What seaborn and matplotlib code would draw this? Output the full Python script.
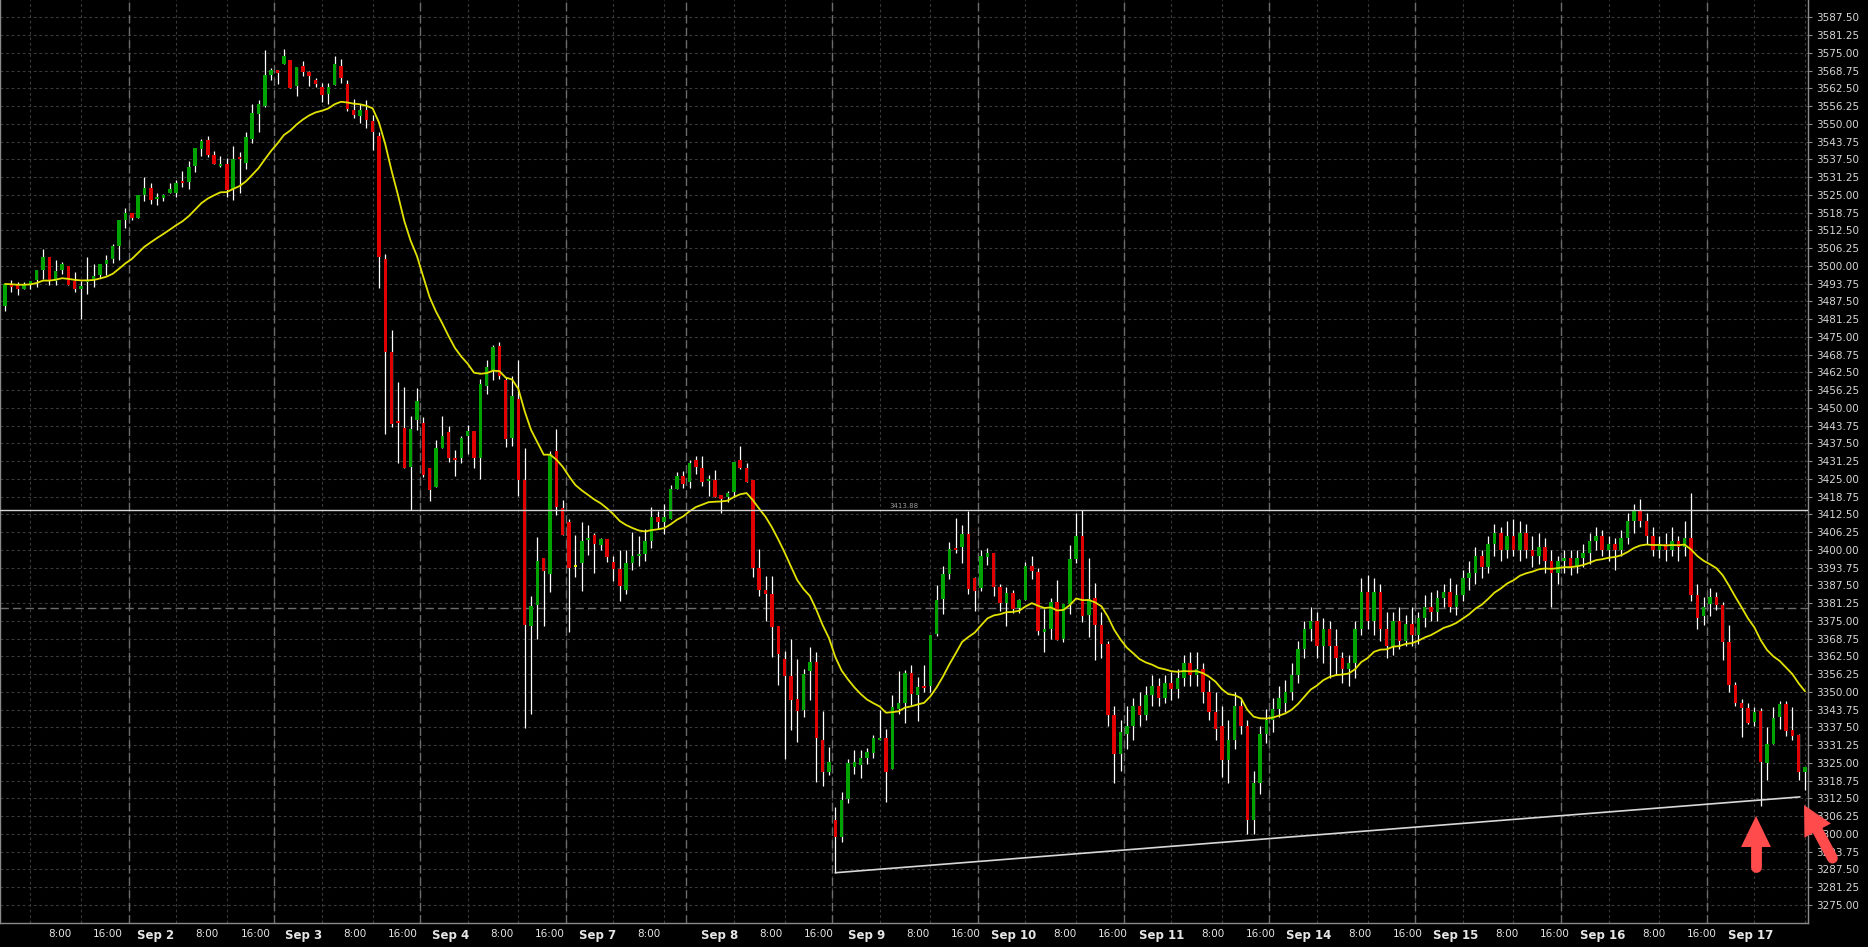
import numpy as np
import pandas as pd
import matplotlib
matplotlib.use("Agg")
import matplotlib.pyplot as plt
from matplotlib.patches import Polygon
import seaborn as sns

# ---------------- data (hourly candles, 31 Aug 20:00 -> 17 Sep 8:00) ----------------
opens = [
    3486.0, 3493.2, 3493.6, 3491.7, 3493.5, 3495.0, 3498.5, 3503.1, 3494.6, 3498.5,
    3499.9, 3494.6, 3491.8, 3494.2, 3495.4, 3496.8, 3500.6, 3502.4, 3507.0, 3516.1,
    3518.7, 3516.9, 3524.9, 3527.4, 3523.5, 3524.0, 3525.6, 3525.6, 3529.7, 3529.5,
    3535.1, 3541.1, 3544.3, 3539.0, 3535.1, 3535.8, 3527.0, 3538.3, 3536.2, 3544.6,
    3553.4, 3556.3, 3567.2, 3568.9, 3571.0, 3572.5, 3563.3, 3570.3, 3568.2, 3565.4,
    3563.0, 3560.5, 3563.7, 3570.3, 3564.0, 3554.9, 3552.7, 3554.9, 3551.0, 3545.7,
    3502.4, 3469.6, 3445.3, 3442.9, 3429.1, 3445.7, 3444.6, 3428.8, 3422.1, 3435.8,
    3441.5, 3432.3, 3432.3, 3440.1, 3441.8, 3432.3, 3457.7, 3463.3, 3471.8, 3459.8,
    3439.4, 3453.1, 3424.6, 3373.2, 3380.6, 3397.1, 3391.5, 3434.8, 3414.7, 3409.8,
    3394.0, 3395.4, 3403.5, 3405.2, 3401.7, 3403.8, 3395.7, 3393.2, 3385.9, 3395.4,
    3397.8, 3398.5, 3403.1, 3411.6, 3409.8, 3410.9, 3421.4, 3426.0, 3423.9, 3431.6,
    3428.8, 3424.3, 3424.6, 3419.3, 3418.6, 3420.4, 3431.7, 3428.8, 3424.6, 3393.6,
    3385.9, 3384.5, 3373.2, 3361.6, 3355.6, 3347.5, 3343.6, 3357.4, 3360.5, 3333.1,
    3321.8, 3305.0, 3299.0, 3312.3, 3323.6, 3324.3, 3326.7, 3328.5, 3333.1, 3333.8,
    3322.9, 3344.0, 3346.1, 3356.7, 3348.9, 3352.1, 3352.0, 3370.4, 3382.7, 3391.5,
    3400.7, 3401.0, 3405.6, 3390.1, 3386.6, 3397.5, 3398.9, 3386.9, 3381.3, 3384.8,
    3379.5, 3382.3, 3394.3, 3392.2, 3371.1, 3372.1, 3381.6, 3368.6, 3380.9, 3396.8,
    3404.9, 3377.1, 3383.1, 3373.5, 3367.0, 3342.0, 3328.0, 3335.0, 3338.0, 3345.0,
    3342.0, 3349.0, 3352.0, 3348.0, 3353.0, 3351.0, 3355.0, 3360.0, 3356.0, 3358.0,
    3350.0, 3343.0, 3338.0, 3326.0, 3333.0, 3345.0, 3338.0, 3305.0, 3318.0, 3335.0,
    3340.0, 3344.0, 3346.0, 3350.0, 3356.0, 3365.0, 3372.0, 3375.0, 3366.0, 3372.0,
    3366.0, 3362.0, 3358.0, 3360.0, 3372.0, 3385.0, 3375.0, 3385.0, 3372.0, 3366.0,
    3375.0, 3368.0, 3374.0, 3370.0, 3376.0, 3380.0, 3378.0, 3383.0, 3385.0, 3380.0,
    3384.0, 3390.0, 3392.0, 3398.0, 3394.0, 3402.0, 3406.0, 3400.0, 3405.0, 3400.0,
    3406.0, 3400.0, 3398.0, 3401.0, 3396.0, 3392.0, 3396.0, 3397.0, 3394.0, 3397.0,
    3399.0, 3403.0, 3405.0, 3400.0, 3402.0, 3400.0, 3404.0, 3410.0, 3414.0, 3410.0,
    3405.0, 3400.0, 3402.0, 3400.0, 3403.0, 3401.0, 3404.0, 3384.0, 3376.6, 3381.1,
    3383.4, 3380.5, 3367.6, 3352.4, 3345.9, 3344.4, 3339.4, 3343.2, 3325.0, 3331.8,
    3341.2, 3345.7, 3336.5, 3334.7, 3321.8,
]
highs = [
    3493.6, 3495.0, 3494.3, 3494.2, 3494.5, 3498.5, 3505.9, 3503.1, 3502.0, 3501.3,
    3499.9, 3497.8, 3494.6, 3503.1, 3500.6, 3500.6, 3503.8, 3507.7, 3516.1, 3520.2,
    3518.7, 3524.9, 3531.3, 3529.0, 3525.6, 3525.3, 3529.1, 3530.2, 3533.4, 3536.9,
    3541.5, 3544.6, 3545.7, 3540.4, 3538.7, 3537.9, 3542.2, 3540.1, 3547.1, 3556.9,
    3558.4, 3576.0, 3569.6, 3568.9, 3576.3, 3572.5, 3570.0, 3572.1, 3568.6, 3566.1,
    3564.4, 3564.4, 3573.9, 3572.8, 3565.4, 3558.7, 3557.0, 3558.4, 3553.1, 3547.1,
    3504.2, 3477.4, 3459.1, 3457.3, 3447.1, 3457.0, 3446.8, 3428.8, 3438.6, 3447.1,
    3443.6, 3435.1, 3440.1, 3443.9, 3441.8, 3460.1, 3466.8, 3472.1, 3473.2, 3460.9,
    3461.2, 3466.8, 3435.8, 3383.7, 3404.5, 3397.1, 3434.8, 3442.5, 3417.5, 3410.9,
    3405.2, 3409.8, 3408.8, 3405.9, 3404.2, 3403.8, 3397.8, 3399.9, 3399.9, 3406.3,
    3404.9, 3407.3, 3415.1, 3413.7, 3416.1, 3422.8, 3427.4, 3427.7, 3431.6, 3433.0,
    3433.1, 3426.4, 3428.1, 3419.3, 3420.7, 3430.9, 3436.6, 3430.6, 3424.6, 3400.3,
    3390.8, 3390.8, 3373.2, 3364.4, 3368.6, 3361.6, 3358.1, 3365.8, 3364.1, 3343.3,
    3330.6, 3309.5, 3314.9, 3326.4, 3329.5, 3329.5, 3330.2, 3334.8, 3343.6, 3336.9,
    3348.9, 3357.4, 3357.7, 3359.5, 3355.2, 3359.5, 3370.0, 3387.6, 3394.3, 3402.8,
    3411.2, 3408.8, 3413.7, 3390.5, 3400.0, 3400.7, 3398.9, 3388.0, 3386.9, 3385.9,
    3382.7, 3395.7, 3397.8, 3393.6, 3379.2, 3383.1, 3389.4, 3380.9, 3401.7, 3413.0,
    3414.0, 3397.1, 3388.3, 3378.0, 3368.0, 3345.0, 3340.0, 3345.0, 3348.0, 3350.0,
    3352.0, 3356.0, 3355.0, 3356.0, 3357.0, 3358.0, 3363.0, 3364.0, 3364.0, 3360.0,
    3354.0, 3350.0, 3345.0, 3340.0, 3350.0, 3348.0, 3340.0, 3322.0, 3338.0, 3344.0,
    3348.0, 3352.0, 3354.0, 3360.0, 3368.0, 3375.0, 3380.0, 3378.0, 3376.0, 3375.0,
    3372.0, 3364.0, 3363.0, 3375.0, 3390.0, 3391.0, 3390.0, 3388.0, 3378.0, 3378.0,
    3380.0, 3377.0, 3380.0, 3378.0, 3384.0, 3385.0, 3386.0, 3388.0, 3390.0, 3388.0,
    3393.0, 3396.0, 3401.0, 3400.0, 3405.0, 3409.0, 3408.0, 3410.0, 3411.0, 3410.0,
    3409.0, 3405.0, 3406.0, 3404.0, 3400.0, 3398.0, 3400.0, 3400.0, 3400.0, 3402.0,
    3406.0, 3408.0, 3407.0, 3405.0, 3404.0, 3407.0, 3413.0, 3416.0, 3418.0, 3413.0,
    3408.0, 3405.0, 3406.0, 3408.0, 3405.0, 3410.0, 3420.0, 3388.0, 3383.4, 3386.6,
    3385.2, 3381.7, 3373.5, 3353.5, 3347.3, 3345.9, 3344.7, 3344.4, 3337.7, 3344.7,
    3346.8, 3346.8, 3344.5, 3335.1, 3323.6,
]
lows = [
    3484.2, 3490.9, 3489.7, 3491.7, 3491.7, 3492.6, 3495.5, 3493.2, 3493.2, 3497.1,
    3493.2, 3490.9, 3481.4, 3490.1, 3492.5, 3495.7, 3496.8, 3501.0, 3502.0, 3513.4,
    3516.1, 3516.9, 3522.8, 3521.8, 3521.4, 3522.8, 3525.6, 3524.2, 3527.7, 3527.0,
    3533.0, 3538.7, 3538.3, 3535.8, 3534.8, 3524.2, 3523.2, 3525.6, 3534.1, 3543.2,
    3547.1, 3555.9, 3565.4, 3564.0, 3571.0, 3562.6, 3559.8, 3566.8, 3563.3, 3563.0,
    3557.7, 3557.0, 3563.7, 3564.4, 3554.5, 3552.0, 3550.3, 3548.5, 3540.8, 3492.2,
    3440.8, 3443.2, 3430.6, 3428.8, 3414.0, 3442.2, 3425.6, 3417.2, 3422.1, 3435.8,
    3430.9, 3426.0, 3430.6, 3433.7, 3428.8, 3424.9, 3454.9, 3459.8, 3460.1, 3436.2,
    3436.6, 3418.9, 3337.3, 3342.2, 3368.6, 3373.2, 3385.1, 3412.3, 3405.2, 3371.1,
    3390.4, 3385.5, 3398.2, 3391.8, 3399.9, 3395.7, 3389.0, 3382.0, 3384.4, 3392.9,
    3394.3, 3396.1, 3400.6, 3407.3, 3405.6, 3410.9, 3421.4, 3421.8, 3421.8, 3426.7,
    3422.5, 3419.0, 3418.6, 3413.0, 3416.9, 3418.6, 3428.5, 3423.9, 3390.5, 3383.8,
    3375.0, 3362.3, 3352.4, 3326.4, 3336.6, 3332.4, 3341.2, 3347.2, 3318.3, 3316.9,
    3320.6, 3286.3, 3297.0, 3311.0, 3321.0, 3319.7, 3324.6, 3326.7, 3333.1, 3311.2,
    3322.9, 3342.2, 3339.1, 3345.4, 3339.8, 3350.0, 3350.0, 3369.8, 3377.4, 3389.7,
    3398.9, 3395.4, 3384.5, 3378.5, 3385.5, 3394.7, 3383.8, 3378.5, 3373.2, 3377.8,
    3377.8, 3382.3, 3389.7, 3370.0, 3364.0, 3368.6, 3368.3, 3367.6, 3377.4, 3395.4,
    3374.6, 3369.3, 3361.2, 3362.0, 3338.0, 3318.0, 3322.0, 3330.0, 3333.0, 3338.0,
    3340.0, 3345.0, 3345.0, 3346.0, 3347.0, 3348.0, 3352.0, 3352.0, 3352.0, 3346.0,
    3340.0, 3333.0, 3320.0, 3318.0, 3330.0, 3335.0, 3300.0, 3300.0, 3314.0, 3332.0,
    3336.0, 3341.0, 3343.0, 3347.0, 3353.0, 3362.0, 3368.0, 3362.0, 3360.0, 3355.0,
    3356.0, 3353.0, 3352.0, 3355.0, 3370.0, 3372.0, 3370.0, 3368.0, 3362.0, 3363.0,
    3365.0, 3366.0, 3366.0, 3367.0, 3373.0, 3375.0, 3375.0, 3380.0, 3378.0, 3377.0,
    3382.0, 3386.0, 3388.0, 3390.0, 3392.0, 3398.0, 3396.0, 3397.0, 3398.0, 3396.0,
    3397.0, 3394.0, 3395.0, 3392.0, 3380.0, 3388.0, 3392.0, 3391.0, 3392.0, 3394.0,
    3395.0, 3400.0, 3398.0, 3396.0, 3393.0, 3398.0, 3402.0, 3406.0, 3408.0, 3402.0,
    3398.0, 3397.0, 3396.0, 3398.0, 3396.0, 3398.0, 3382.0, 3372.0, 3373.5, 3376.8,
    3378.8, 3361.2, 3350.0, 3344.9, 3334.2, 3338.6, 3337.9, 3309.8, 3318.9, 3331.8,
    3337.0, 3334.4, 3333.2, 3318.9, 3315.4,
]
closes = [
    3493.6, 3492.6, 3491.7, 3493.5, 3494.5, 3498.5, 3503.1, 3494.6, 3498.2, 3500.6,
    3493.2, 3491.8, 3492.9, 3495.0, 3496.4, 3500.6, 3502.0, 3507.0, 3516.1, 3518.7,
    3516.9, 3524.9, 3527.4, 3523.2, 3524.2, 3524.8, 3527.0, 3529.0, 3529.0, 3534.8,
    3541.5, 3543.9, 3539.0, 3535.8, 3535.8, 3526.7, 3537.6, 3537.6, 3545.3, 3553.8,
    3556.9, 3567.2, 3568.9, 3568.0, 3573.9, 3562.6, 3570.0, 3568.2, 3566.8, 3564.0,
    3560.1, 3563.0, 3571.0, 3566.1, 3555.2, 3553.1, 3554.9, 3551.3, 3547.1, 3503.1,
    3469.6, 3444.3, 3444.6, 3428.8, 3442.5, 3452.4, 3426.3, 3421.0, 3435.8, 3440.1,
    3432.3, 3431.6, 3439.4, 3441.8, 3432.3, 3458.4, 3464.4, 3471.4, 3461.2, 3439.0,
    3454.2, 3424.6, 3373.5, 3380.2, 3396.1, 3392.5, 3433.7, 3415.1, 3405.2, 3393.6,
    3394.0, 3403.1, 3404.2, 3402.0, 3403.8, 3397.5, 3393.2, 3387.3, 3395.4, 3397.8,
    3398.5, 3403.1, 3411.6, 3409.8, 3411.6, 3421.4, 3426.0, 3423.2, 3430.6, 3429.2,
    3423.9, 3425.0, 3418.6, 3417.9, 3419.9, 3430.9, 3428.8, 3423.9, 3393.6, 3385.9,
    3384.5, 3372.9, 3363.3, 3355.6, 3347.2, 3343.3, 3356.3, 3360.5, 3333.8, 3321.8,
    3325.3, 3299.0, 3311.9, 3325.0, 3325.3, 3326.7, 3328.8, 3333.8, 3333.8, 3321.8,
    3344.7, 3346.1, 3356.7, 3349.3, 3351.7, 3351.4, 3370.0, 3382.3, 3391.5, 3400.3,
    3400.0, 3405.6, 3386.2, 3385.5, 3397.8, 3398.9, 3386.9, 3381.3, 3384.8, 3379.2,
    3382.3, 3394.3, 3392.6, 3371.4, 3372.1, 3381.6, 3368.3, 3380.9, 3396.8, 3404.9,
    3376.7, 3382.7, 3373.5, 3367.0, 3342.0, 3328.0, 3336.0, 3338.0, 3345.0, 3342.0,
    3349.0, 3352.0, 3348.0, 3353.0, 3351.0, 3355.0, 3360.0, 3356.0, 3358.0, 3350.0,
    3343.0, 3337.0, 3326.0, 3333.0, 3345.0, 3338.0, 3305.0, 3318.0, 3335.0, 3340.0,
    3344.0, 3348.0, 3350.0, 3356.0, 3365.0, 3372.0, 3375.0, 3366.0, 3372.0, 3366.0,
    3362.0, 3358.0, 3360.0, 3372.0, 3385.0, 3375.0, 3385.0, 3372.0, 3366.0, 3375.0,
    3368.0, 3374.0, 3370.0, 3376.0, 3380.0, 3378.0, 3383.0, 3385.0, 3380.0, 3384.0,
    3390.0, 3392.0, 3398.0, 3394.0, 3402.0, 3406.0, 3400.0, 3405.0, 3400.0, 3406.0,
    3400.0, 3398.0, 3401.0, 3396.0, 3392.0, 3396.0, 3397.0, 3394.0, 3397.0, 3399.0,
    3403.0, 3405.0, 3400.0, 3402.0, 3400.0, 3404.0, 3410.0, 3414.0, 3410.0, 3405.0,
    3400.0, 3402.0, 3400.0, 3403.0, 3401.0, 3404.0, 3384.0, 3376.0, 3380.0, 3383.4,
    3380.5, 3367.6, 3352.4, 3346.1, 3344.4, 3338.9, 3343.0, 3325.4, 3331.8, 3340.9,
    3345.7, 3336.3, 3334.5, 3321.8, 3323.6,
]

# time axis: bar index of each labelled grid line
time_ticks = [12, 19.5, 27, 35, 42.5, 50, 58, 65.5, 73, 81, 88.5, 96, 104, 115,
              123, 130.5, 138, 146, 153.5, 161, 169, 176.5, 184, 192, 199.5, 207,
              215, 222.5, 230, 238, 245.5, 253, 261, 268.5, 276]
time_labels = ["8:00", "16:00", "Sep 2", "8:00", "16:00", "Sep 3", "8:00", "16:00",
               "Sep 4", "8:00", "16:00", "Sep 7", "8:00", "Sep 8", "8:00", "16:00",
               "Sep 9", "8:00", "16:00", "Sep 10", "8:00", "16:00", "Sep 11", "8:00",
               "16:00", "Sep 14", "8:00", "16:00", "Sep 15", "8:00", "16:00", "Sep 16",
               "8:00", "16:00", "Sep 17"]
extra_grid = [4, 284]
session_breaks = [19.5, 42.5, 65.5, 88.5, 107.5, 130.5, 153.5, 176.5, 199.5,
                  222.5, 245.5, 268.5]
price_levels = np.arange(3275.0, 3587.6, 6.25)

level_price = 3413.88
bid_price = 3379.6
trend_x = [131, 283.2]
trend_y = [3286.3, 3313.0]
ema_span = 20

# ---------------- figure ----------------
sns.set_theme(style="dark")
plt.rcParams['font.family'] = ['DejaVu Sans']

W, H = 1868, 947
fig = plt.figure(figsize=(W / 100, H / 100), dpi=100, facecolor='black')
ax = fig.add_axes([0, 24 / H, 1808 / W, 923 / H])
ax.set_facecolor('black')
ax.grid(False)

df = pd.DataFrame({'i': np.arange(len(closes)), 'o': opens, 'h': highs,
                   'l': lows, 'c': closes})
df['ema'] = df['c'].ewm(span=ema_span, adjust=False).mean()

# grid lines
for p in price_levels:
    ax.axhline(p, color='#3a3a3a', lw=0.8, ls=(0, (2.5, 2.5)), zorder=0)
for t in time_ticks + extra_grid:
    ax.axvline(t, color='#3a3a3a', lw=0.8, ls=(0, (2.5, 2.5)), zorder=0)
for t in session_breaks:
    ax.axvline(t, color='#6c6c6c', lw=1.0, ls=(0, (6, 3)), zorder=0.5)
ax.axhline(bid_price, color='#6c6c6c', lw=1.0, ls=(0, (6, 3)), zorder=0.5)

# candles
up = df['c'] > df['o']
down = df['c'] < df['o']
colors = np.where(up, '#00a400', np.where(down, '#e00000', '#e6e600'))
ax.vlines(df['i'], df['l'], df['h'], color='white', lw=0.9, zorder=2)
body_bottom = np.minimum(df['o'], df['c'])
body_h = np.maximum((df['c'] - df['o']).abs(), 0.5)
ax.bar(df['i'], body_h, bottom=body_bottom, width=0.55, color=colors,
       linewidth=0, zorder=3)

# moving average
sns.lineplot(data=df, x='i', y='ema', color='#e2e200', lw=1.3, ax=ax, zorder=4)

# horizontal level + trend line
ax.axhline(level_price, color='#d4d4d4', lw=1.0, zorder=5)
ax.text(141.8, level_price + 0.45, f"{level_price:.2f}", color='#9a9a9a',
        fontsize=5, ha='center', va='bottom', zorder=5)
sns.lineplot(x=trend_x, y=trend_y, color='#d8d8d8', lw=1.2, ax=ax, zorder=5)

# axes
ax.set_xlim(-0.789, 284.47)
ax.set_ylim(3268.6, 3593.6)
ax.set_xlabel('')
ax.set_ylabel('')
ax.yaxis.tick_right()
ax.set_yticks(price_levels)
ax.set_yticklabels([f"{v:.2f}" for v in price_levels])
ax.tick_params(axis='y', colors='#8a8a8a', labelcolor='#d6d6d6', labelsize=7.5,
               length=3, width=0.8, pad=3, left=False, right=True)
label_pos = [t * 1.0101 - 3.44 for t in time_ticks]
ax.set_xticks(label_pos)
ax.set_xticklabels(time_labels)
ax.tick_params(axis='x', length=0, pad=4, labelcolor='#e6e6e6', labelsize=7.5)
for lab in ax.get_xticklabels():
    if lab.get_text().startswith('Sep'):
        lab.set_fontweight('bold')
        lab.set_fontsize(8.5)
for side in ['left', 'right', 'bottom']:
    ax.spines[side].set_visible(True)
    ax.spines[side].set_color('#8a8a8a')
    ax.spines[side].set_linewidth(1.0)
ax.spines['top'].set_visible(False)

# red hand-drawn arrows (overlay in pixel coordinates)
ov = fig.add_axes([0, 0, 1, 1])
ov.set_xlim(0, W)
ov.set_ylim(H, 0)
ov.axis('off')
ov.patch.set_alpha(0)
arrow_color = '#ff4b4b'


def draw_arrow(tail, tip, head_len, head_half, shaft_pt):
    tail = np.array(tail, float)
    tip = np.array(tip, float)
    d = tip - tail
    u = d / np.hypot(*d)
    perp = np.array([-u[1], u[0]])
    base = tip - u * head_len
    ov.add_patch(Polygon([tip, base + perp * head_half, base - perp * head_half],
                         closed=True, facecolor=arrow_color, edgecolor='none'))
    end = base + u * 3
    ov.plot([tail[0], end[0]], [tail[1], end[1]], color=arrow_color,
            lw=shaft_pt, solid_capstyle='round')


draw_arrow((1756, 867), (1756, 816), 31, 15, 7.8)
draw_arrow((1832.4, 858.1), (1804, 805), 29, 15, 7.8)

fig.savefig('out.png', dpi=100, facecolor='black')
